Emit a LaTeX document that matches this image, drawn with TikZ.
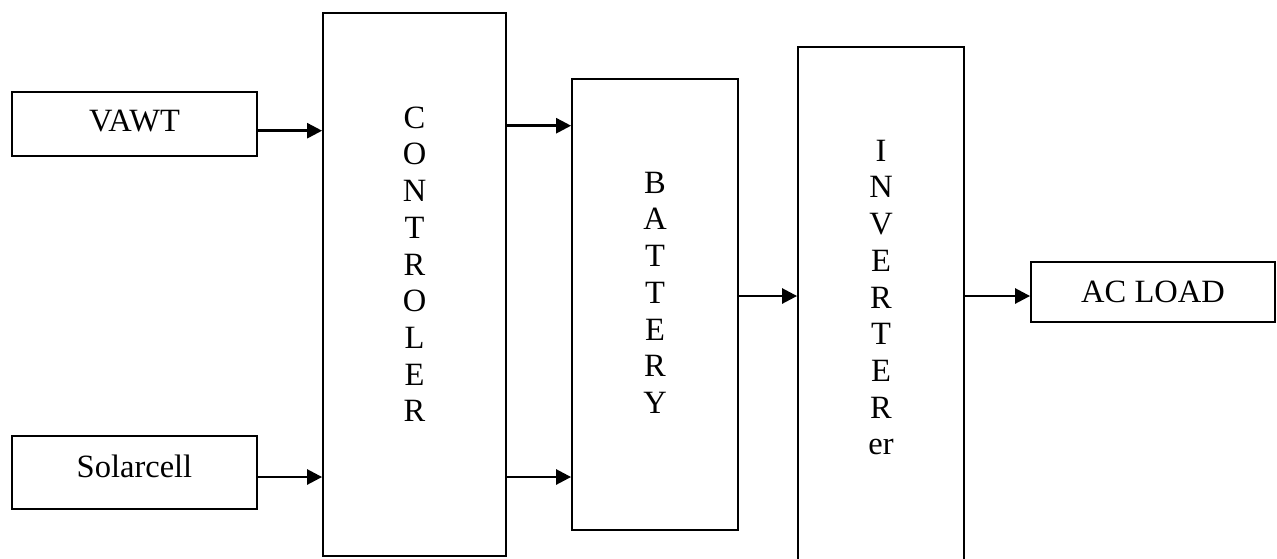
\documentclass[tikz,border=0pt]{standalone}
\usepackage{fontspec}
\setmainfont{Liberation Serif}
\usetikzlibrary{arrows.meta}

\tikzset{
  blk/.style={draw, line width=1.8pt, rectangle, inner sep=0pt,
    font=\fontsize{32.5}{36.7}\selectfont},
  coltext/.style={anchor=north, inner sep=0pt, align=center,
    font=\fontsize{32.5}{36.7}\selectfont},
  arr/.style={line width=2.6pt, -{Triangle[length=15pt,width=15pt]}},
}

\begin{document}
\begin{tikzpicture}[x=1pt, y=-1pt]
  \clip (0,0) rectangle (1277,558);
  \fill[white] (0,0) rectangle (1277,558);

  % source and load boxes
  \node[blk, minimum width=245pt, minimum height=63.7pt, text depth=6pt]
    (vawt) at (134.5,123.9) {VAWT};
  \node[blk, minimum width=245pt, minimum height=73.3pt, text depth=12pt]
    (solar) at (134.5,472.4) {Solarcell};
  \node[blk, minimum width=244pt, minimum height=60pt]
    (acload) at (1153,292) {AC LOAD};

  % tall vertical blocks
  \node[blk, minimum width=183pt, minimum height=543pt] (ctrl) at (414.5,284.5) {};
  \node[blk, minimum width=166pt, minimum height=451pt] (batt) at (655,304.5) {};
  \node[blk, minimum width=166pt, minimum height=516pt] (inv) at (881,305) {};

  % stacked letters inside the tall blocks
  \node[coltext] (ctrltxt) at (414.5,106.5) {C\\O\\N\\T\\R\\O\\L\\E\\R};
  \node[coltext] (batttxt) at (655,171.8) {B\\A\\T\\T\\E\\R\\Y};
  \node[coltext] (invtxt) at (881,139.8) {I\\N\\V\\E\\R\\T\\E\\R\\er};

  % connection points
  \coordinate (a1) at ([yshift=-6.8pt]vawt.east);
  \coordinate (a2) at ([yshift=-4.6pt]solar.east);
  \coordinate (b1) at ([yshift=178.8pt]batt.west);
  \coordinate (b2) at ([yshift=-172.5pt]batt.west);
  \coordinate (c1) at ([yshift=9pt]inv.west);
  \coordinate (d1) at ([yshift=-4pt]acload.west);

  % connectors
  \draw[arr] (a1) -- (a1 -| ctrl.west);
  \draw[arr] (a2) -- (a2 -| ctrl.west);
  \draw[arr] (b1 -| ctrl.east) -- (b1);
  \draw[arr] (b2 -| ctrl.east) -- (b2);
  \draw[arr] (c1 -| batt.east) -- (c1);
  \draw[arr] (d1 -| inv.east) -- (d1);
\end{tikzpicture}
\end{document}
